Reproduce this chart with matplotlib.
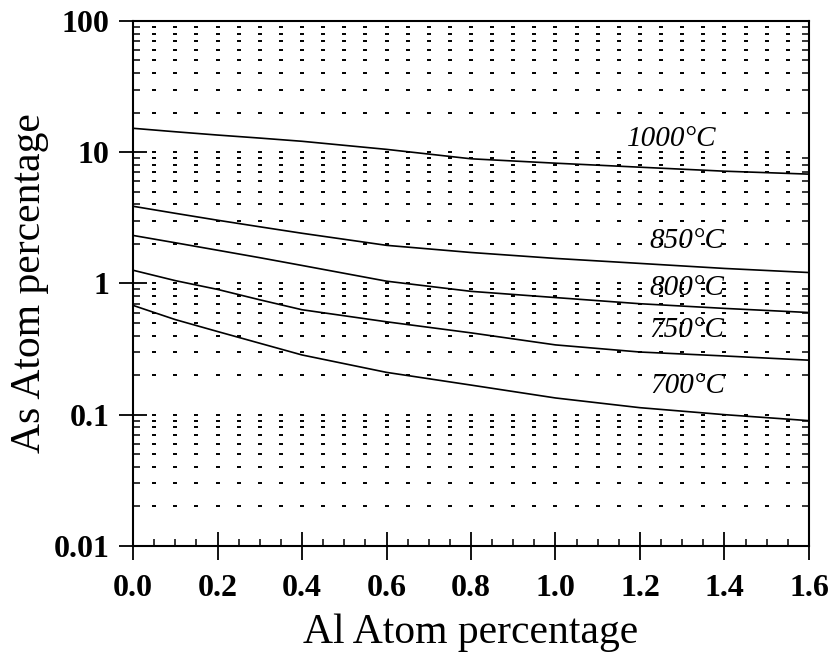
import numpy as np
import matplotlib
matplotlib.use('Agg')
import matplotlib.pyplot as plt
from matplotlib.ticker import FixedLocator, MultipleLocator, LogLocator, NullFormatter

# Values (As atom % vs Al atom %)
al = [0.0, 0.1, 0.2, 0.3, 0.4, 0.6, 0.8, 1.0, 1.2, 1.4, 1.6]
as_1000 = [15.2, 14.3, 13.5, 12.8, 12.1, 10.5, 8.9, 8.24, 7.68, 7.16, 6.8]
as_850 = [3.87, 3.42, 3.03, 2.70, 2.41, 1.95, 1.72, 1.55, 1.42, 1.30, 1.21]
as_800 = [2.32, 2.04, 1.79, 1.57, 1.37, 1.04, 0.87, 0.78, 0.70, 0.645, 0.60]
as_750 = [1.26, 1.05, 0.90, 0.75, 0.63, 0.51, 0.42, 0.34, 0.30, 0.28, 0.26]
as_700 = [0.68, 0.53, 0.43, 0.35, 0.285, 0.21, 0.168, 0.134, 0.113, 0.10, 0.09]

series = [as_1000, as_850, as_800, as_750, as_700]
labels = ['1000°C', '850°C', '800°C', '750°C', '700°C']
label_xy = [(1.276, 12.6), (1.311, 2.09), (1.311, 0.916), (1.31, 0.438), (1.314, 0.166)]

xticks = [0.0, 0.2, 0.4, 0.6, 0.8, 1.0, 1.2, 1.4, 1.6]
xticklabels = ['0.0', '0.2', '0.4', '0.6', '0.8', '1.0', '1.2', '1.4', '1.6']
yticks = [0.01, 0.1, 1, 10, 100]
yticklabels = ['0.01', '0.1', '1', '10', '100']

serif = 'Liberation Serif'

fig = plt.figure(figsize=(8.34, 6.53), dpi=100)
ax = fig.add_axes([0.1595, 0.164, 0.8105, 0.804])

# dotted grid: short dashes at every 0.05 in x and every log minor step in y
gx = np.arange(1, 32) * 0.05
gy = np.array([m * 10.0 ** k for k in range(-2, 2) for m in range(1, 10)])[1:]
GX, GY = np.meshgrid(gx, gy)
ax.scatter(GX.ravel(), GY.ravel(), marker='_', s=10, linewidths=1.4, color='black', zorder=1)

for ys in series:
    ax.plot(al, ys, color='black', lw=1.2, zorder=2)

for txt, (lx, ly) in zip(labels, label_xy):
    ax.text(lx, ly, txt, family=serif, style='italic', fontsize=21,
            ha='center', va='center', zorder=3)

ax.set_yscale('log')
ax.set_xlim(0, 1.6)
ax.set_ylim(0.01, 100)

ax.xaxis.set_major_locator(FixedLocator(xticks))
ax.xaxis.set_minor_locator(MultipleLocator(0.05))
ax.set_xticklabels(xticklabels)
ax.yaxis.set_major_locator(FixedLocator(yticks))
ax.yaxis.set_minor_locator(LogLocator(base=10, subs=np.arange(2, 10)))
ax.yaxis.set_minor_formatter(NullFormatter())
ax.set_yticklabels(yticklabels)

ax.tick_params(axis='both', which='major', direction='inout', length=20, width=1.3,
               labelsize=23)
ax.tick_params(axis='x', which='major', pad=10)
ax.tick_params(axis='y', which='major', pad=7)
ax.tick_params(axis='both', which='minor', direction='in', length=5, width=1.1)
ax.tick_params(axis='y', which='minor', right=True)
for lab in ax.get_xticklabels() + ax.get_yticklabels():
    lab.set_family(serif)
    lab.set_fontweight('bold')

for sp in ax.spines.values():
    sp.set_linewidth(1.5)

ax.set_xlabel('Al Atom percentage', family=serif, fontsize=30, labelpad=8)
ax.set_ylabel('As Atom percentage', family=serif, fontsize=30, labelpad=3)

fig.savefig('out.png', dpi=100)
